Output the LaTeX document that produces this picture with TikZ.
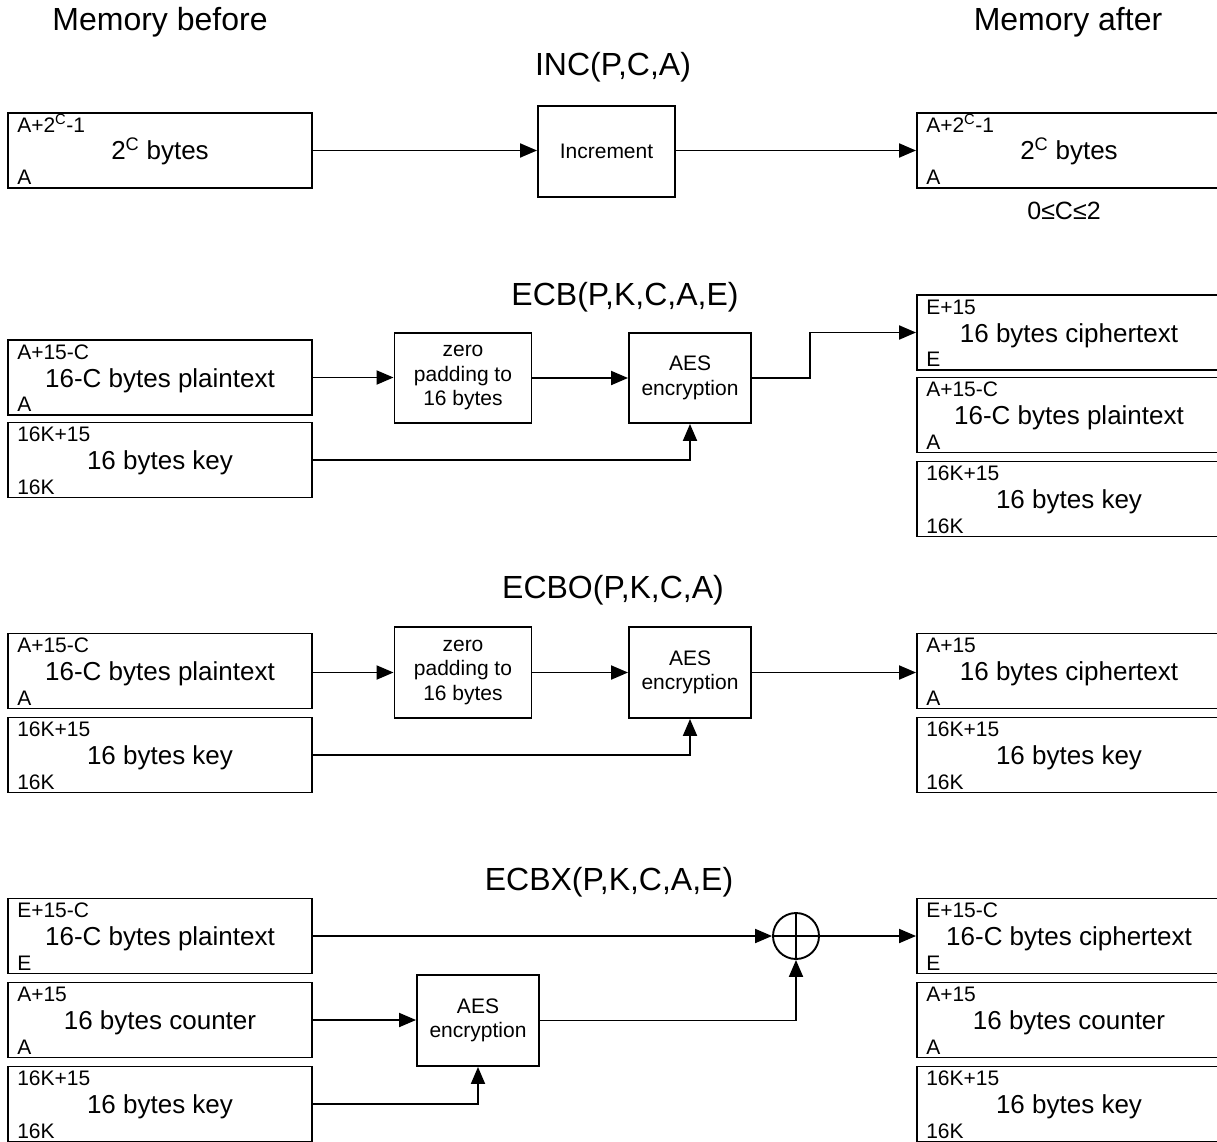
\documentclass[tikz,border=0pt]{standalone}
\usepackage{fontspec}
\setmainfont{Liberation Sans}
\usepackage{tikz}
\usetikzlibrary{arrows.meta,positioning,calc}

\tikzset{
  membox/.style={draw, line width=1.9pt, minimum width=304pt, minimum height=75pt, inner sep=0pt},
  memmain/.style={inner sep=0pt, font=\fontsize{26}{30}\selectfont},
  memlbl/.style={inner sep=0pt, font=\fontsize{21}{24}\selectfont},
  procbox/.style={draw, line width=1.9pt, align=center, inner sep=0pt, font=\fontsize{21}{24.5}\selectfont},
  xorop/.style={draw, circle, line width=1.9pt, minimum size=46pt, inner sep=0pt},
  headline/.style={inner sep=0pt, font=\fontsize{32}{36}\selectfont},
  arr/.style={line width=1.9pt, -{Triangle[length=17pt,width=14pt]}}
}

% memory cell: name, centre, top address, contents, bottom address
\newcommand{\memcell}[5]{%
  \node[membox] (#1) at (#2) {};
  \node[memmain, anchor=base] at ([yshift=-9.5pt]#1.center) {#4};
  \node[memlbl, anchor=base west] at ([xshift=10pt,yshift=-20pt]#1.north west) {#3};
  \node[memlbl, anchor=base west] at ([xshift=10pt,yshift=4pt]#1.south west) {#5};
}

\begin{document}
\begin{tikzpicture}[x=1pt,y=-1pt]
\clip (0,0) rectangle (1217,1142);
\fill[white] (0,0) rectangle (1217,1142);

\node[headline] (before) at (160,22) {Memory before};
\node[headline] (after) at (1068,22) {Memory after};

% INC
\node[headline] (incT) at (613,67) {INC(P,C,A)};
\memcell{incL}{160,150.5}{A+2\textsuperscript{C}-1}{2\textsuperscript{C} bytes}{A}
\node[procbox, minimum width=137pt, minimum height=91pt] (incB) at (606.5,151.5) {Increment};
\memcell{incR}{1069,150.5}{A+2\textsuperscript{C}-1}{2\textsuperscript{C} bytes}{A}
\node[inner sep=0pt, font=\fontsize{25}{30}\selectfont] (incC) at (1064,211) {0≤C≤2};
\draw[arr] (incL.east) -- (incL.east -| incB.west);
\draw[arr] (incB.east |- incR.west) -- (incR.west);

% ECB
\node[headline] (ecbT) at (625,297) {ECB(P,K,C,A,E)};
\memcell{ecbP}{160,377.5}{A+15-C}{16-C bytes plaintext}{A}
\memcell{ecbK}{160,460}{16K+15}{16 bytes key}{16K}
\node[procbox, minimum width=137pt, minimum height=90pt] (ecbZ) at (463,378) {zero\\padding to\\16 bytes};
\node[procbox, minimum width=122pt, minimum height=90pt] (ecbA) at (690,378) {AES\\encryption};
\memcell{ecbC}{1069,332.5}{E+15}{16 bytes ciphertext}{E}
\memcell{ecbRP}{1069,415}{A+15-C}{16-C bytes plaintext}{A}
\memcell{ecbRK}{1069,499}{16K+15}{16 bytes key}{16K}
\coordinate (ecbM) at (810,378);
\draw[arr] (ecbP.east) -- (ecbP.east -| ecbZ.west);
\draw[arr] (ecbZ.east) -- (ecbA.west);
\draw[arr] (ecbK.east) -| (ecbA.south);
\draw[arr] (ecbA.east) -- (ecbM) |- (ecbC.west);

% ECBO
\node[headline] (ecboT) at (613,590) {ECBO(P,K,C,A)};
\memcell{ecboP}{160,671}{A+15-C}{16-C bytes plaintext}{A}
\memcell{ecboK}{160,755}{16K+15}{16 bytes key}{16K}
\node[procbox, minimum width=137pt, minimum height=91pt] (ecboZ) at (463,672.5) {zero\\padding to\\16 bytes};
\node[procbox, minimum width=122pt, minimum height=91pt] (ecboA) at (690,672.5) {AES\\encryption};
\memcell{ecboC}{1069,671}{A+15}{16 bytes ciphertext}{A}
\memcell{ecboRK}{1069,755}{16K+15}{16 bytes key}{16K}
\draw[arr] (ecboZ.west -| ecboP.east) -- (ecboZ.west);
\draw[arr] (ecboZ.east) -- (ecboA.west);
\draw[arr] (ecboK.east) -| (ecboA.south);
\draw[arr] (ecboA.east) -- (ecboA.east -| ecboC.west);

% ECBX
\node[headline] (ecbxT) at (609,882) {ECBX(P,K,C,A,E)};
\memcell{ecbxP}{160,936}{E+15-C}{16-C bytes plaintext}{E}
\memcell{ecbxN}{160,1020}{A+15}{16 bytes counter}{A}
\memcell{ecbxK}{160,1104}{16K+15}{16 bytes key}{16K}
\node[procbox, minimum width=122pt, minimum height=91pt] (ecbxA) at (478,1020.5) {AES\\encryption};
\node[xorop] (ecbxO) at (796,936) {};
\draw[line width=1.9pt] (ecbxO.north) -- (ecbxO.south) (ecbxO.west) -- (ecbxO.east);
\memcell{ecbxC}{1069,936}{E+15-C}{16-C bytes ciphertext}{E}
\memcell{ecbxRN}{1069,1020}{A+15}{16 bytes counter}{A}
\memcell{ecbxRK}{1069,1104}{16K+15}{16 bytes key}{16K}
\draw[arr] (ecbxP.east) -- (ecbxO.west);
\draw[arr] (ecbxO.east) -- (ecbxC.west);
\draw[arr] (ecbxN.east) -- (ecbxN.east -| ecbxA.west);
\draw[arr] (ecbxK.east) -| (ecbxA.south);
\draw[arr] (ecbxA.east) -| (ecbxO.south);
\end{tikzpicture}
\end{document}
